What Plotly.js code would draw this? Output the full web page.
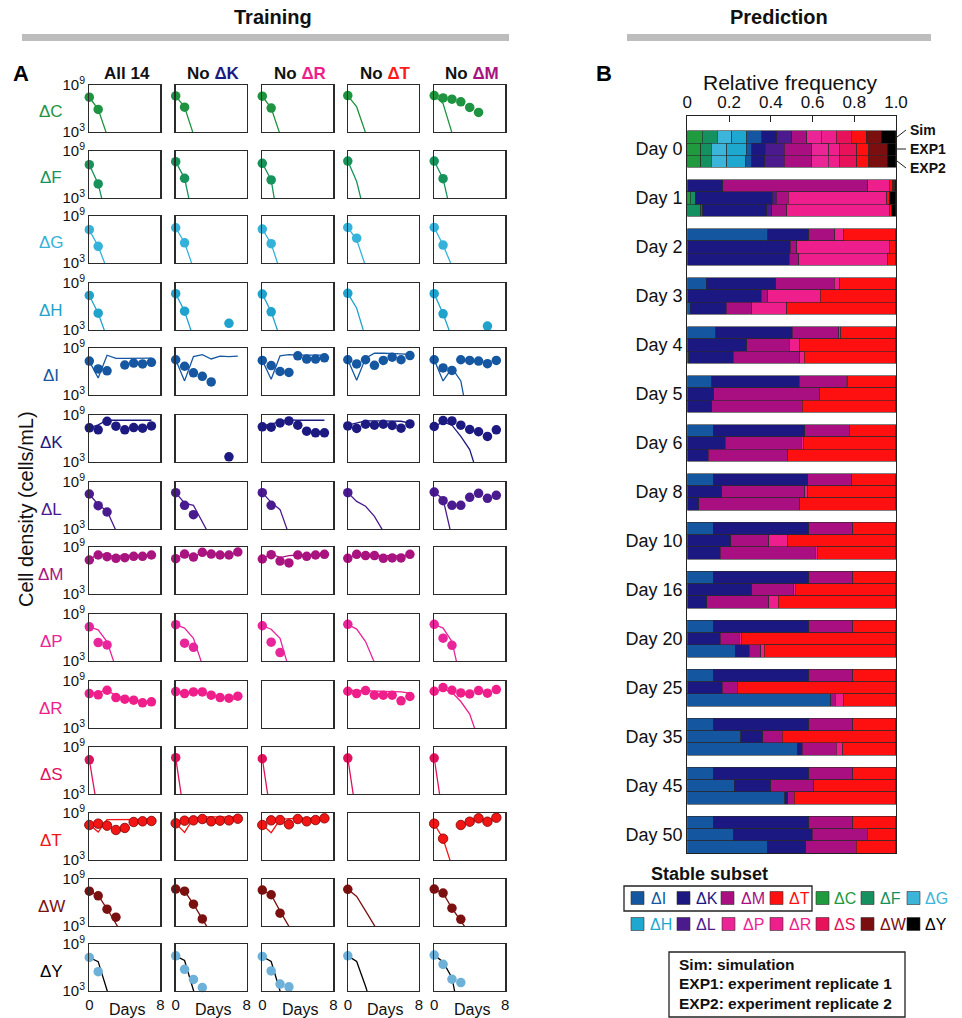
<!DOCTYPE html>
<html><head><meta charset="utf-8">
<script src="https://cdn.plot.ly/plotly-3.0.1.min.js"></script>
<style>html,body{margin:0;padding:0;background:#fff}#chart{width:962px;height:1018px}</style>
</head><body><div id="chart"></div>
<script>
// ---------------- DATA ----------------
const dayPts = [0, 1, 2, 3, 4, 5, 6, 7];
const rowNames = ['ΔC','ΔF','ΔG','ΔH','ΔI','ΔK','ΔL','ΔM','ΔP','ΔR','ΔS','ΔT','ΔW','ΔY'];
const colTitles = ['All 14', 'No ΔK', 'No ΔR', 'No ΔT', 'No ΔM'];
const yTickVals = [3, 9];
const yTickText = ['10<sup>3</sup>', '10<sup>9</sup>'];
const xTickVals = [0, 8];

// log10(cells/mL); one entry per column (All 14, No ΔK, No ΔR, No ΔT, No ΔM); null = nothing drawn
const expC = [[7.44,5.88],[7.6,6.17],[7.57,6.05],[7.65],[7.65,7.35,7.19,6.85,6.13,5.5]];
const simC = [[7.44,5.9,2.6],[7.6,6.17,2.7],[7.57,6.05,2.7],[7.65,6.2,2.9],[7.65,6.64,2.9]];
const expF = [[7.26,4.79],[7.64,5.51],[7.43,5.3],[7.72],[7.72,5.47]];
const simF = [[7.26,4.8,0.2],[7.64,5.51,0.2],[7.43,5.3,-1.5],[7.72,5.1,0.5],[7.72,5.47,0.5]];
const expG = [[7.25,5.13],[7.5,5.58],[7.33,5.46],[7.54,6.17],[7.54,5.29]];
const simG = [[7.25,5.13,2.2],[7.5,5.58,2.3],[7.33,5.46,2.0],[7.54,5.95,2.6],[7.54,5.29,2.6]];
const expH = [[7.41,5.15],[7.63,5.4,null,null,null,null,3.85],[7.59,5.32],[7.68],[7.63,5.06,null,null,null,null,3.5]];
const simH = [[7.41,5.15,2.0],[7.63,5.4,2.0],[7.59,5.32,2.0],[7.68,5.78,2.0],[7.63,5.06,2.0]];
const expI = [[7.33,6.33,6.08,null,6.83,7.08,6.96,7.17],[7.5,6.67,5.83,5.38,4.67],[7.42,6.75,6.0,5.88,8.0,7.58,7.58,7.75],[7.5,6.96,7.5,6.79,7.42,7.83,7.5,8.04],[7.5,6.46,6.13,7.5,7.42,7.33,7.0,7.42]];
const simI = [[7.33,5.17,8.08,7.67,7.67,7.7,7.7,7.7],[7.5,4.8,7.9,8.15,7.6,7.95,7.9,7.95],[7.42,5.0,8.0,8.15,8.1,8.1,8.1,8.1],[7.5,4.88,7.71,8.33,8.33,8.33,8.25,8.17],[7.5,4.79,6.42,4.8,-1.2]];
const expK = [[7.36,7.11,8.2,7.57,7.11,7.4,7.32,7.61],[null,null,null,null,null,null,3.66],[7.49,7.45,7.99,8.24,7.7,6.94,6.73,6.73],[7.61,7.28,7.82,7.7,7.82,7.66,7.32,7.86],[7.53,8.29,8.24,7.7,7.15,6.86,6.27,7.11]];
const simK = [[7.36,7.74,8.33,8.33,8.33,8.33,8.33,8.33],null,[7.61,7.87,8.2,8.37,8.33,8.33,8.33,8.33],[7.7,7.95,8.24,8.24,8.24,8.24,8.2,7.95],[7.53,8.12,7.7,6.27,4.59,1.0]];
const expL = [[7.47,5.98,5.17],[7.64,6.02,4.83],[7.64,6.02],[7.64],[7.72,6.62,6.02,6.02,7.04,7.55,6.91,7.3]];
const simL = [[7.47,6.1,5.3,2.8],[7.64,6.3,6.02,4.0,1.8],[7.64,6.4,5.47,2.3],[7.64,6.53,5.9,4.62,2.7],[7.72,6.83,1.9]];
const expM = [[7.34,7.98,7.77,7.55,7.64,7.81,7.81,7.98],[7.51,8.1,7.72,8.32,8.1,7.98,7.98,8.36],[7.47,8.02,7.21,6.96,7.98,7.81,7.98,8.06],[7.55,8.06,7.9,7.9,7.55,7.6,7.6,8.06],null];
const simM = [[7.38,8.1,7.9,7.85,7.85,7.85,7.85,7.95],[7.5,8.1,7.85,8.2,8.1,8.0,8.0,8.3],[7.47,8.15,7.64,7.9,7.98,7.98,7.98,8.0],[7.55,8.1,7.95,7.92,7.85,7.85,7.85,7.9],null];
const expP = [[7.37,5.35,5.05],[7.63,5.27,4.75],[7.5,5.4,4.07],[7.68],[7.68,5.91,5.0]];
const simP = [[7.37,6.98,5.45,2.1],[7.63,7.2,5.9,2.5],[7.5,7.06,5.9,2.0],[7.68,7.07,5.48,2.8],[7.68,7.2,5.48,0.5]];
const expR = [[7.4,7.23,7.82,6.89,6.68,6.55,6.22,6.34],[7.65,7.4,7.61,7.61,7.19,6.89,6.8,7.06],null,[7.69,7.4,7.78,7.19,7.19,7.19,6.47,7.02],[7.69,8.16,7.82,7.48,7.35,7.78,7.44,7.9]];
const simR = [[7.4,7.56,7.82,7.14,6.8,6.6,6.43,6.34],[7.65,7.62,7.6,7.55,7.2,6.95,6.85,6.6],null,[7.82,7.8,7.75,7.72,7.68,7.64,7.6,7.44],[7.69,7.95,7.57,6.38,4.78,1.5]];
const expS = [[7.37],[7.63],[7.5],[7.58],[7.58]];
const simS = [[7.37,0.5],[7.63,0],[7.5,0],[7.58,0],[7.58,0]];
const expT = [[7.47,7.64,7.38,6.83,7.09,7.85,7.94,7.98],[7.68,8.02,8.06,8.23,7.94,8.02,8.06,8.27],[7.47,8.06,8.1,7.55,8.23,7.94,8.1,8.32],null,[7.64,5.72,null,7.47,7.89,8.32,7.89,8.4]];
const simT = [[7.55,6.57,8.15,8.15,8.17,8.17,8.17,8.17],[7.68,6.53,8.35,8.5,8.5,8.5,8.5,8.5],[7.5,6.49,8.15,8.28,8.3,8.32,8.34,8.36],null,[7.64,5.72,2.2]];
const expW = [[7.45,6.85,5.15,4.12],[7.72,7.45,5.78,3.9],[7.59,6.99,4.63],[7.68],[7.72,7.2,5.27,3.85]];
const simW = [[7.45,6.9,5.2,3.3,1.4],[7.72,7.45,5.78,3.9,2.0],[7.59,6.99,4.9,3.0,1.0],[7.68,6.78,4.93,3.1,1.2],[7.72,7.2,5.27,3.8,2.0]];
const expY = [[7.28,5.47],[7.49,5.77,4.47,3.44],[7.41,5.56,3.88,3.53],[7.49],[7.58,6.41,4.51,4.08]];
const simY = [[7.28,6.75,3.1,-0.5],[7.49,6.9,3.1,-0.5],[7.41,6.77,3.0,-0.5],[7.49,6.77,3.6,0],[7.58,6.7,4.7,-1]];

const expRows = [expC,expF,expG,expH,expI,expK,expL,expM,expP,expR,expS,expT,expW,expY];
const simRows = [simC,simF,simG,simH,simI,simK,simL,simM,simP,simR,simS,simT,simW,simY];

// Panel B: relative frequencies, order: C F G H I K L M P R S T W Y
const genotypes = ['ΔC','ΔF','ΔG','ΔH','ΔI','ΔK','ΔL','ΔM','ΔP','ΔR','ΔS','ΔT','ΔW','ΔY'];
const dayLabels = ['Day 0','Day 1','Day 2','Day 3','Day 4','Day 5','Day 6','Day 8','Day 10','Day 16','Day 20','Day 25','Day 35','Day 45','Day 50'];
const freqTicks = [0, 0.2, 0.4, 0.6, 0.8, 1.0];
const freqTickText = ['0','0.2','0.4','0.6','0.8','1.0'];
const simFreq = [
 [.0714,.0714,.0714,.0714,.0714,.0714,.0714,.0714,.0714,.0714,.0714,.0714,.0714,.0718],
 [0,0,0,0,0,.169,0,.695,0,.104,0,.014,.012,.006],
 [0,0,0,0,.386,.197,0,.123,0,.043,0,.251,0,0],
 [0,0,0,0,.09,.333,0,.282,0,.026,0,.269,0,0],
 [0,0,0,0,.136,.366,0,.224,0,.01,0,.264,0,0],
 [0,0,0,0,.117,.419,0,.226,0,.005,0,.233,0,0],
 [0,0,0,0,.125,.438,0,.214,0,0,0,.223,0,0],
 [0,0,0,0,.125,.453,0,.211,0,0,0,.211,0,0],
 [0,0,0,0,.125,.458,0,.21,0,0,0,.207,0,0],
 [0,0,0,0,.124,.459,0,.21,0,0,0,.207,0,0],
 [0,0,0,0,.124,.459,0,.21,0,0,0,.207,0,0],
 [0,0,0,0,.124,.459,0,.21,0,0,0,.207,0,0],
 [0,0,0,0,.124,.459,0,.21,0,0,0,.207,0,0],
 [0,0,0,0,.124,.459,0,.21,0,0,0,.207,0,0],
 [0,0,0,0,.124,.459,0,.21,0,0,0,.207,0,0]
];
const exp1Freq = [
 [.064,.050,.075,.093,.027,.064,.091,.133,.080,.053,.083,.056,.088,.043],
 [.013,.025,0,0,0,.37,.019,.056,0,.472,0,.013,0,.032],
 [0,0,0,0,0,.493,0,.032,0,.442,0,.033,0,0],
 [0,0,0,0,0,.354,0,.032,0,.25,0,.364,0,0],
 [0,0,0,0,0,.285,0,.203,0,.051,0,.461,0,0],
 [0,0,0,0,0,.126,0,.509,0,0,0,.365,0,0],
 [0,0,0,0,0,.181,0,.366,0,.01,0,.443,0,0],
 [0,0,0,0,0,.165,0,.398,0,.013,0,.424,0,0],
 [0,0,0,0,0,.208,0,.182,0,.091,0,.519,0,0],
 [0,0,0,0,0,.31,0,.2,0,.008,0,.482,0,0],
 [0,0,0,0,0,.157,0,.091,0,.013,0,.739,0,0],
 [0,0,0,0,0,.168,0,.072,0,0,0,.76,0,0],
 [0,0,0,0,.256,.106,0,.094,0,0,0,.544,0,0],
 [0,0,0,0,.224,.176,0,.205,0,0,0,.395,0,0],
 [0,0,0,0,.221,.378,0,.264,0,0,0,.137,0,0]
];
const exp2Freq = [
 [.064,.050,.075,.091,.029,.062,.093,.133,.078,.055,.083,.056,.088,.043],
 [0,.064,0,0,.01,.307,.024,.072,0,.492,0,.011,0,.02],
 [0,0,0,0,0,.488,0,.046,0,.426,0,.04,0,0],
 [0,0,0,0,.013,.173,0,.123,0,.168,0,.523,0,0],
 [0,0,0,0,.008,.211,0,.32,0,.022,0,.439,0,0],
 [0,0,0,0,0,.117,0,.435,0,0,0,.448,0,0],
 [0,0,0,0,0,.101,0,.381,0,0,0,.518,0,0],
 [0,0,0,0,0,.056,0,.483,0,0,0,.461,0,0],
 [0,0,0,0,0,.158,0,.454,0,.01,0,.378,0,0],
 [0,0,0,0,0,.093,0,.298,0,.046,0,.563,0,0],
 [0,0,0,0,.23,.066,0,.056,0,.016,0,.632,0,0],
 [0,0,0,0,.688,0,0,.021,0,.04,0,.251,0,0],
 [0,0,0,0,.528,.024,0,.162,0,.03,0,.256,0,0],
 [0,0,0,0,.466,.016,0,.03,0,0,0,.488,0,0],
 [0,0,0,0,.382,.186,0,.242,0,0,0,.19,0,0]
];
const sampleNames = ['Sim','EXP1','EXP2'];
const legendRow1 = ['ΔI','ΔK','ΔM','ΔT','ΔC','ΔF','ΔG'];
const legendRow2 = ['ΔH','ΔL','ΔP','ΔR','ΔS','ΔW','ΔY'];
const noteLines = ['Sim: simulation','EXP1: experiment replicate 1','EXP2: experiment replicate 2'];

// ---------------- STYLE ----------------
const ROW_LINE = ['#1e9440','#17925a','#35b2d9','#1fa3cc','#1557a0','#1c1a80','#4a1b8e','#a8137f','#e8259a','#ee1f8a','#e0125e','#f21515','#7b1010','#000000'];
const ROW_DOT  = ['#1e9440','#17925a','#35b2d9','#1fa3cc','#1557a0','#1c1a80','#4a1b8e','#a8137f','#e8259a','#ee1f8a','#e0125e','#f21515','#7b1010','#6db0d8'];
const GENO_COLOR = {'ΔC':'#1f9a3e','ΔF':'#14915e','ΔG':'#3bb5d9','ΔH':'#1ea7cf','ΔI':'#1456a0','ΔK':'#1b1881','ΔL':'#4b1a8c','ΔM':'#a90f80','ΔP':'#ec2596','ΔR':'#ee1f8c','ΔS':'#e8125a','ΔT':'#ff1010','ΔW':'#7b0f0f','ΔY':'#000000'};
const TITLE_COLOR = {'ΔK':'#1c1a80','ΔR':'#ee1f8a','ΔT':'#ff1a1a','ΔM':'#a8137f'};

const W = 962, H = 1018;
const px = v => v / W, py = v => 1 - v / H;
const FONT = 'Liberation Sans, Arial, Helvetica, sans-serif';
const colLeft = [89.3, 175.7, 262.3, 347.8, 434.2], colW = 71;
const rowTop = [85, 151, 216, 283, 348, 415, 482, 547, 614, 681, 747, 813, 879, 944], rowH = 47;

const data = [];
const layout = {
  width: W, height: H, margin: {l:0, r:0, t:0, b:0},
  paper_bgcolor: '#fff', plot_bgcolor: '#fff', showlegend: false,
  font: {family: FONT, color: '#111'}, barmode: 'stack', bargap: 0,
  annotations: [], shapes: []
};
const ann = (o) => layout.annotations.push(Object.assign({xref:'paper', yref:'paper', showarrow:false, font:{family:FONT, size:16, color:'#111'}}, o));

// ---------- Panel A ----------
for (let r = 0; r < 14; r++) {
  for (let c = 0; c < 5; c++) {
    const idx = r * 5 + c + 1;
    const xs = idx === 1 ? 'x' : 'x' + idx, ys = idx === 1 ? 'y' : 'y' + idx;
    const xk = idx === 1 ? 'xaxis' : 'xaxis' + idx, yk = idx === 1 ? 'yaxis' : 'yaxis' + idx;
    layout[xk] = {
      domain: [px(colLeft[c]), px(colLeft[c] + colW)], range: [0, 8], anchor: ys,
      showline: true, mirror: true, linecolor: '#2a2a2a', linewidth: 1.3,
      showgrid: false, zeroline: false, ticks: '', fixedrange: true,
      showticklabels: r === 13, tickvals: xTickVals, tickfont: {size: 15, family: FONT, color:'#111'}
    };
    layout[yk] = {
      domain: [py(rowTop[r] + rowH), py(rowTop[r])], range: [3, 9], anchor: xs,
      showline: true, mirror: true, linecolor: '#2a2a2a', linewidth: 1.3,
      showgrid: false, zeroline: false, ticks: '', fixedrange: true,
      showticklabels: c === 0, tickvals: yTickVals, ticktext: yTickText,
      tickfont: {size: 15, family: FONT, color:'#111'}
    };
    const sim = simRows[r][c], exp = expRows[r][c];
    data.push({type:'scatter', mode:'lines', x: sim ? dayPts.slice(0, sim.length) : [], y: sim || [],
      xaxis: xs, yaxis: ys, line: {color: ROW_LINE[r], width: 1.3}, hoverinfo: 'skip'});
    if (exp) {
      data.push({type:'scatter', mode:'markers', x: dayPts.slice(0, exp.length), y: exp,
        xaxis: xs, yaxis: ys, cliponaxis: false, hoverinfo: 'skip',
        marker: {size: 9.5, color: ROW_DOT[r], line: {width: r === 11 ? 0.8 : 0, color: '#7a0000'}}});
    }
  }
  ann({x: px(51), y: py(rowTop[r] + 27), text: rowNames[r], xanchor: 'center', yanchor: 'middle',
       font: {family: FONT, size: 17, color: ROW_LINE[r]}});
}
// column titles
colTitles.forEach((t, c) => {
  let txt = t;
  const m = t.match(/Δ[A-Z]/);
  if (m) txt = t.replace(m[0], '<span style="color:' + TITLE_COLOR[m[0]] + '">' + m[0] + '</span>');
  ann({x: px(colLeft[c] + colW / 2 + 2), y: py(73), text: '<b>' + txt + '</b>', xanchor: 'center', yanchor: 'middle',
       font: {family: FONT, size: 17, color: '#111'}});
  ann({x: px(colLeft[c] + colW / 2 + 2), y: py(1009), text: 'Days', xanchor: 'center', yanchor: 'middle',
       font: {family: FONT, size: 16, color: '#111'}});
});
ann({x: px(26), y: py(509), text: 'Cell density (cells/mL)', textangle: -90, xanchor: 'center', yanchor: 'middle',
     font: {family: FONT, size: 20, color: '#111'}});
ann({x: px(21), y: py(73), text: '<b>A</b>', xanchor: 'center', yanchor: 'middle', font: {family: FONT, size: 22, color: '#000'}});
ann({x: px(604), y: py(73), text: '<b>B</b>', xanchor: 'center', yanchor: 'middle', font: {family: FONT, size: 22, color: '#000'}});
ann({x: px(273), y: py(17), text: '<b>Training</b>', xanchor: 'center', yanchor: 'middle', font: {family: FONT, size: 20, color: '#111'}});
ann({x: px(779), y: py(17), text: '<b>Prediction</b>', xanchor: 'center', yanchor: 'middle', font: {family: FONT, size: 20, color: '#111'}});
layout.shapes.push({type:'rect', xref:'paper', yref:'paper', x0:px(22), x1:px(509), y0:py(41), y1:py(34), fillcolor:'#bdbdbd', line:{width:0}});
layout.shapes.push({type:'rect', xref:'paper', yref:'paper', x0:px(627), x1:px(931), y0:py(41), y1:py(34), fillcolor:'#bdbdbd', line:{width:0}});

// ---------- Panel B ----------
layout.xaxis71 = {
  domain: [px(687.3), px(896)], range: [0, 1], anchor: 'y71', side: 'top',
  showline: true, mirror: true, linecolor: '#222', linewidth: 1.2,
  ticks: 'inside', ticklen: 6, tickcolor: '#222', tickvals: freqTicks, ticktext: freqTickText,
  tickfont: {size: 17, family: FONT, color: '#111'}, showgrid: false, zeroline: false, fixedrange: true
};
layout.yaxis71 = {
  domain: [py(853), py(115.7)], range: [58.5, -1.73], anchor: 'x71',
  showline: true, mirror: true, linecolor: '#222', linewidth: 1.2, ticks: '',
  tickvals: dayLabels.map((d, i) => 4 * i + 1), ticktext: dayLabels,
  tickfont: {size: 18, family: FONT, color: '#111'}, showgrid: false, zeroline: false, fixedrange: true
};
const samples = [simFreq, exp1Freq, exp2Freq];
genotypes.forEach((g, gi) => {
  const xv = [], yv = [];
  for (let d = 0; d < dayLabels.length; d++) {
    for (let s = 0; s < 3; s++) {
      const v = samples[s][d][gi];
      xv.push(v > 0 ? v : null);
      yv.push(4 * d + s);
    }
  }
  data.push({type:'bar', orientation:'h', x: xv, y: yv, xaxis:'x71', yaxis:'y71', name: g,
    marker: {color: GENO_COLOR[g], line: {color: '#2a2a2a', width: 0.6}}, hoverinfo: 'skip'});
});
ann({x: px(790), y: py(82), text: 'Relative frequency', xanchor: 'center', yanchor: 'middle', font: {family: FONT, size: 21, color: '#111'}});
// Sim / EXP labels with leaders
const labY = [130, 149, 168], barY = [137, 149, 161];
sampleNames.forEach((s, i) => {
  ann({x: px(908), y: py(labY[i]), text: '<b>' + s + '</b>', xanchor: 'left', yanchor: 'middle', font: {family: FONT, size: 14, color: '#111'}});
  layout.shapes.push({type:'line', xref:'paper', yref:'paper', x0: px(897), y0: py(barY[i]), x1: px(906), y1: py(labY[i]), line: {color:'#222', width: 1}});
});
// legend
ann({x: px(649), y: py(874), text: '<b>Stable subset</b>', xanchor: 'left', yanchor: 'middle', font: {family: FONT, size: 18, color: '#111'}});
layout.shapes.push({type:'rect', xref:'paper', yref:'paper', x0:px(624), x1:px(812), y0:py(911), y1:py(886), line:{color:'#222', width:1.3}, fillcolor:'rgba(0,0,0,0)'});
const sw1 = [631, 677, 721, 770, 816, 861, 907], tx1 = [649, 694, 739, 787, 832, 878, 923];
const sw2 = [631, 677, 722, 770, 816, 861, 907], tx2 = [648, 694, 741, 787, 832, 878, 923];
[[legendRow1, sw1, tx1, 898], [legendRow2, sw2, tx2, 924]].forEach(([names, sw, tx, yc]) => {
  names.forEach((g, i) => {
    layout.shapes.push({type:'rect', xref:'paper', yref:'paper', x0: px(sw[i]), x1: px(sw[i] + 13), y0: py(yc + 6.5), y1: py(yc - 6.5),
      fillcolor: GENO_COLOR[g], line: {color: '#333', width: 0.6}});
    ann({x: px(tx[i]), y: py(yc), text: g, xanchor: 'left', yanchor: 'middle', font: {family: FONT, size: 16, color: GENO_COLOR[g]}});
  });
});
layout.shapes.push({type:'rect', xref:'paper', yref:'paper', x0:px(669), x1:px(905), y0:py(1017), y1:py(952), line:{color:'#222', width:1.3}, fillcolor:'rgba(0,0,0,0)'});
noteLines.forEach((t, i) => {
  ann({x: px(677), y: py(964 + i * 19.5), text: '<b>' + t + '</b>', xanchor: 'left', yanchor: 'middle', font: {family: FONT, size: 15.5, color: '#111'}});
});

Plotly.newPlot('chart', data, layout, {staticPlot: true, displayModeBar: false});
</script></body></html>
